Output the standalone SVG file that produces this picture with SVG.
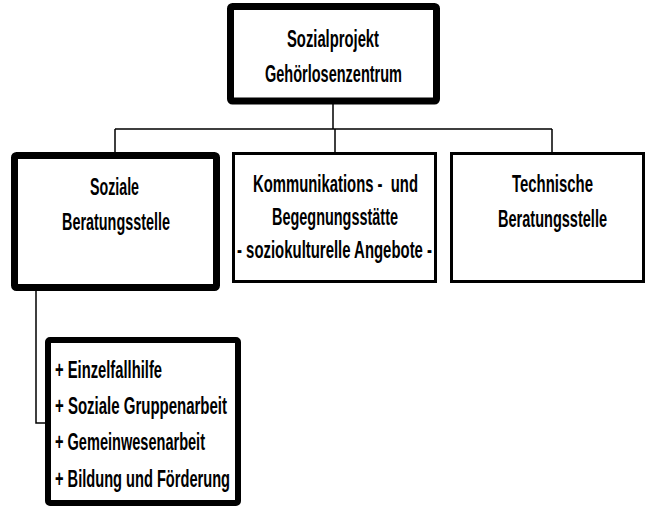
<svg xmlns="http://www.w3.org/2000/svg" width="647" height="508" viewBox="0 0 647 508">
<style>
.t{font-family:"Liberation Sans Narrow","Liberation Sans",Arial,sans-serif;font-weight:bold;font-size:24px;fill:#000}
.m{text-anchor:middle}
.thick{fill:#fff;stroke:#000;stroke-width:7}
.thin{fill:#fff;stroke:#000;stroke-width:3}
.mid{fill:#fff;stroke:#000;stroke-width:6}
.c{fill:none;stroke:#000;stroke-width:1.5}
</style>
<rect width="647" height="508" fill="#fff"/>
<g id="connectors">
<path class="c" d="M333 104V129M115 129H552M115 129V152M335 129V152M552 129V152"/>
<path class="c" d="M36 291V423H45"/>
</g>
<g id="node-top">
<rect class="thick" x="230.5" y="6.5" width="206" height="94.5" rx="2"/>
<text class="t m" x="333" y="47" textLength="92" lengthAdjust="spacingAndGlyphs">Sozialprojekt</text>
<text class="t m" x="333.5" y="82" textLength="137" lengthAdjust="spacingAndGlyphs">Gehörlosenzentrum</text>
</g>
<g id="node-soziale">
<rect class="thick" x="14.5" y="155.5" width="202" height="132" rx="2"/>
<text class="t m" x="114.5" y="195" textLength="49" lengthAdjust="spacingAndGlyphs">Soziale</text>
<text class="t m" x="116" y="230" textLength="108" lengthAdjust="spacingAndGlyphs">Beratungsstelle</text>
</g>
<g id="node-kommunikation">
<rect class="thin" x="233.5" y="153.5" width="202" height="128"/>
<text class="t m" x="335.5" y="192" textLength="165" lengthAdjust="spacingAndGlyphs" xml:space="preserve">Kommunikations -  und</text>
<text class="t m" x="335" y="225" textLength="126" lengthAdjust="spacingAndGlyphs">Begegnungsstätte</text>
<text class="t m" x="334.5" y="258" textLength="195" lengthAdjust="spacingAndGlyphs">- soziokulturelle Angebote -</text>
</g>
<g id="node-technische">
<rect class="thin" x="451.5" y="153.5" width="192" height="128"/>
<text class="t m" x="552.5" y="192" textLength="81" lengthAdjust="spacingAndGlyphs">Technische</text>
<text class="t m" x="552.5" y="227" textLength="109" lengthAdjust="spacingAndGlyphs">Beratungsstelle</text>
</g>
<g id="node-angebote">
<rect class="mid" x="48" y="340" width="190" height="163" rx="2"/>
<text class="t" x="55" y="378" textLength="107" lengthAdjust="spacingAndGlyphs">+ Einzelfallhilfe</text>
<text class="t" x="55" y="414" textLength="172" lengthAdjust="spacingAndGlyphs">+ Soziale Gruppenarbeit</text>
<text class="t" x="55" y="450" textLength="150" lengthAdjust="spacingAndGlyphs">+ Gemeinwesenarbeit</text>
<text class="t" x="55" y="487" textLength="175" lengthAdjust="spacingAndGlyphs">+ Bildung und Förderung</text>
</g>
</svg>
